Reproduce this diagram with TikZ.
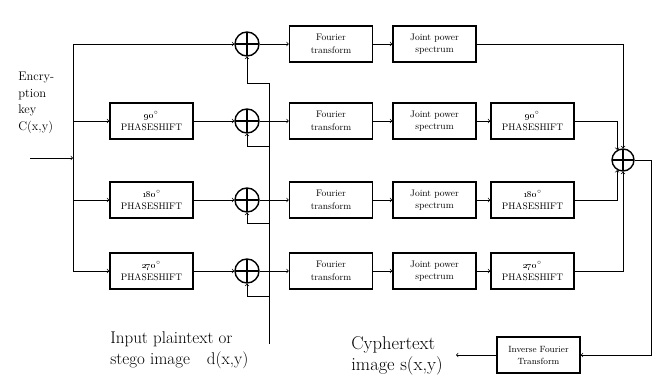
\documentclass[tikz,border=0pt]{standalone}
\usepackage{amsmath}
\usepackage{tikz}
\usetikzlibrary{positioning}

\tikzset{
  blockbox/.style={draw, line width=1.4pt, minimum width=83pt, minimum height=36pt,
    align=center, inner sep=1pt, font=\fontsize{9.5}{12.5}\selectfont},
  sumnode/.style={circle, draw, line width=1.4pt, minimum size=24pt, inner sep=0pt,
    path picture={\draw[line width=1.4pt] (path picture bounding box.north) -- (path picture bounding box.south)
      (path picture bounding box.west) -- (path picture bounding box.east);}},
  wire/.style={line width=0.7pt},
}
\newcommand{\phdeg}[1]{\oldstylenums{#1}$^{\circ}$}

\begin{document}
\begin{tikzpicture}[x=1pt, y=-1pt, wire]
      \useasboundingbox (0,0) rectangle (661,385);
      % left part
      \coordinate (in) at (30,158);
      \coordinate (split) at (73,158);
      \node[blockbox] (ps1) at (151.5,121) {\phdeg{90}\\PHASESHIFT};
      \node[blockbox] (ps2) at (151.5,200) {\phdeg{180}\\PHASESHIFT};
      \node[blockbox] (ps3) at (151.5,271) {\phdeg{270}\\PHASESHIFT};
      \node[sumnode] (sum0) at (247,44) {};
      \node[sumnode] (sum1) at (247,121) {};
      \node[sumnode] (sum2) at (247,200) {};
      \node[sumnode] (sum3) at (247,271) {};
      % fourier rows
      \node[blockbox] (ft0) at (331,44) {Fourier\\transform};
      \node[blockbox] (ft1) at (331,121) {Fourier\\transform};
      \node[blockbox] (ft2) at (331,200) {Fourier\\transform};
      \node[blockbox] (ft3) at (331,271) {Fourier\\transform};
      \node[blockbox] (jps0) at (434.5,44) {Joint power\\spectrum};
      \node[blockbox] (jps1) at (434.5,121) {Joint power\\spectrum};
      \node[blockbox] (jps2) at (434.5,200) {Joint power\\spectrum};
      \node[blockbox] (jps3) at (434.5,271) {Joint power\\spectrum};
      \node[blockbox] (psr1) at (532.5,121) {\phdeg{90}\\PHASESHIFT};
      \node[blockbox] (psr2) at (532.5,200) {\phdeg{180}\\PHASESHIFT};
      \node[blockbox] (psr3) at (532.5,271) {\phdeg{270}\\PHASESHIFT};
      \node[sumnode, minimum size=22pt] (sumr) at (623,160) {};
      \node[blockbox, font=\fontsize{9}{12}\selectfont] (ift) at (538.5,355) {Inverse Fourier\\Transform};
      \coordinate (ret) at (651,355);
      \coordinate (out) at (456,355);
      % texts
      \node[anchor=north west, align=left, inner sep=0pt, font=\fontsize{12.5}{16.5}\selectfont] (key) at (18,72)
        {Encry-\\ption\\key\\C(x,y)};
      \node[anchor=north west, align=left, inner sep=0pt, font=\fontsize{17}{21}\selectfont] (plain) at (110,331)
        {Input plaintext or\\stego image\quad d(x,y)};
      \node[anchor=north west, align=left, inner sep=0pt, font=\fontsize{18.5}{21}\selectfont] (cypher) at (351,336)
        {Cyphertext\\image s(x,y)};
      % bus for d(x,y)
      \coordinate (t0) at (269,83);
      \coordinate (t1) at (269,146);
      \coordinate (t2) at (269,223);
      \coordinate (t3) at (269,296);
      \coordinate (tend) at (269,344);
      \draw (t0) -- (tend);
      \draw[->] (t0) -| (sum0.south);
      \draw[->] (t1) -| (sum1.south);
      \draw[->] (t2) -| (sum2.south);
      \draw[->] (t3) -| (sum3.south);
      % key split
      \draw[->] (in) -- (split);
      \draw[->] (split) |- (sum0);
      \draw[->] (split) |- (ps1);
      \draw[->] (split) |- (ps2);
      \draw[->] (split) |- (ps3);
      \draw[->] (ps1) -- (sum1);
      \draw[->] (ps2) -- (sum2);
      \draw[->] (ps3) -- (sum3);
      \draw[->] (sum0) -- (ft0);
      \draw[->] (sum1) -- (ft1);
      \draw[->] (sum2) -- (ft2);
      \draw[->] (sum3) -- (ft3);
      \draw[->] (ft0) -- (jps0);
      \draw[->] (ft1) -- (jps1);
      \draw[->] (ft2) -- (jps2);
      \draw[->] (ft3) -- (jps3);
      \draw[->] (jps1) -- (psr1);
      \draw[->] (jps2) -- (psr2);
      \draw[->] (jps3) -- (psr3);
      % into the right sum
      \draw[->] (jps0) -| (sumr.north);
      \draw[->] (psr1) -| (sumr.120);
      \draw[->] (psr2) -| (sumr.240);
      \draw[->] (psr3) -| (sumr.south);
      \draw[->] (sumr.east) -| (ret) -- (ift.east);
      \draw[->] (ift.west) -- (out);
    \end{tikzpicture}
\end{document}
